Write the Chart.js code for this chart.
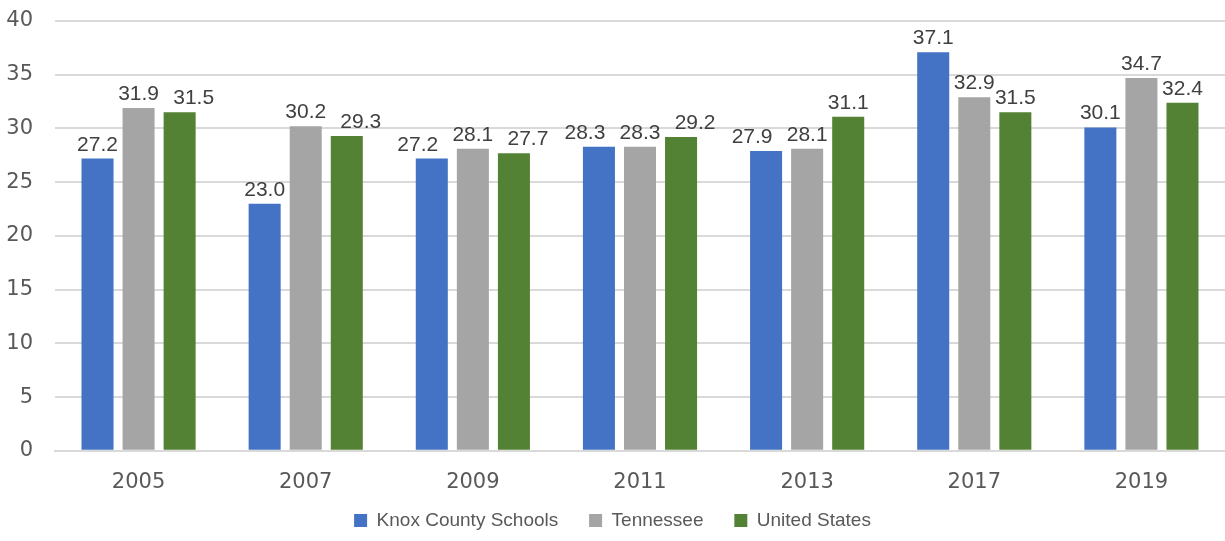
<!DOCTYPE html>
<html>
<head>
<meta charset="utf-8">
<script src="https://cdn.jsdelivr.net/npm/chart.js@4/dist/chart.umd.min.js"></script>
<style>
  html, body { margin: 0; padding: 0; background: #fff; }
  #wrap { width: 1225px; height: 541px; }
</style>
</head>
<body>
<div id="wrap"><canvas id="grafica" width="1225" height="541"></canvas></div>
<script>
const years = ['2005', '2007', '2009', '2011', '2013', '2017', '2019'];
const knox = [27.2, 23.0, 27.2, 28.3, 27.9, 37.1, 30.1];
const tennessee = [31.9, 30.2, 28.1, 28.3, 28.1, 32.9, 34.7];
const unitedStates = [31.5, 29.3, 27.7, 29.2, 31.1, 31.5, 32.4];
const yTicks = [0, 5, 10, 15, 20, 25, 30, 35, 40];

// etiquetas encima de cada barra; si chocan, la de fuera se aparta
const barLabels = {
    id: 'barLabels',
    afterLayout(chart) {
        // subir la leyenda un poco
        chart.legend.top -= 18;
        chart.legend.bottom -= 18;
    },
    afterDatasetsDraw(chart) {
        const ctx = chart.ctx;
        ctx.save();
        ctx.font = '21px "Liberation Sans", sans-serif';
        ctx.fillStyle = '#404040';
        ctx.textAlign = 'center';
        ctx.textBaseline = 'alphabetic';
        const n = chart.data.labels.length;
        for (let j = 0; j < n; j++) {
            const items = chart.data.datasets.map((ds, i) => {
                const bar = chart.getDatasetMeta(i).data[j];
                return { text: ds.data[j].toFixed(1), x: bar.x, y: bar.y - 8 };
            });
            for (let k = 0; k < items.length - 1; k++) {
                const a = items[k], b = items[k + 1];
                const wa = ctx.measureText(a.text).width;
                const wb = ctx.measureText(b.text).width;
                if (Math.abs(a.y - b.y) < 14 && (b.x - a.x) < (wa + wb) / 2 + 4) {
                    if (k === 0) a.x -= 14; else b.x += 14;
                }
            }
            items.forEach(it => ctx.fillText(it.text, it.x, it.y));
        }
        ctx.restore();
    }
};

const ctx = document.getElementById('grafica').getContext('2d');
new Chart(ctx, {
    type: 'bar',
    data: {
        labels: years,
        datasets: [
            { label: 'Knox County Schools', data: knox, backgroundColor: '#4472C4' },
            { label: 'Tennessee', data: tennessee, backgroundColor: '#A5A5A5' },
            { label: 'United States', data: unitedStates, backgroundColor: '#548235' }
        ]
    },
    options: {
        responsive: false,
        animation: false,
        layout: { padding: { top: 21, right: 0, left: 0, bottom: -17 } },
        datasets: {
            bar: { categoryPercentage: 0.737, barPercentage: 0.78 }
        },
        scales: {
            x: {
                grid: { display: false, drawTicks: false },
                border: { color: '#d9d9d9', width: 2 },
                ticks: {
                    color: '#595959',
                    font: { family: '"DejaVu Sans", sans-serif', size: 21 },
                    padding: 19
                }
            },
            y: {
                min: 0,
                max: 40,
                afterBuildTicks: axis => { axis.ticks = yTicks.map(v => ({ value: v })); },
                afterFit: axis => {
                    axis.width = 55;
                    axis.paddingTop = 0;
                    axis.paddingBottom = 0;
                },
                ticks: {
                    color: '#595959',
                    font: { family: '"DejaVu Sans", sans-serif', size: 21 },
                    padding: 22
                },
                grid: { color: '#d9d9d9', lineWidth: 2, drawTicks: false },
                border: { display: false }
            }
        },
        plugins: {
            legend: {
                display: true,
                position: 'bottom',
                labels: {
                    boxWidth: 13,
                    boxHeight: 13,
                    color: '#595959',
                    padding: 15,
                    font: { family: '"Liberation Sans", sans-serif', size: 19 },
                    generateLabels: chart => {
                        const items = Chart.defaults.plugins.legend.labels.generateLabels(chart);
                        items.forEach((it, i) => { if (i < items.length - 1) it.text += '   '; });
                        return items;
                    }
                }
            },
            tooltip: { enabled: false }
        }
    },
    plugins: [barLabels]
});
</script>
</body>
</html>
